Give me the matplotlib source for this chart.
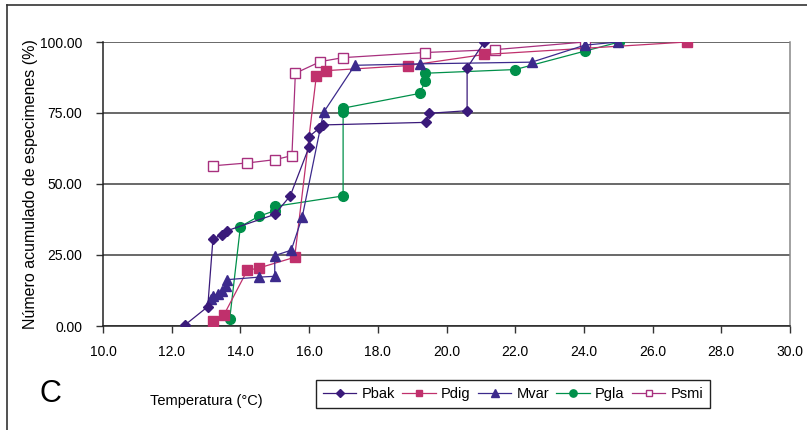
import matplotlib.pyplot as plt
from matplotlib.lines import Line2D

plt.rcParams['font.family'] = ['Liberation Sans', 'DejaVu Sans']

# temperatura (°C) / número acumulado (%)
pbak_x = [12.4, 13.05, 13.2, 13.45, 13.6, 15.0, 15.45, 16.0, 16.0, 16.3, 16.4, 19.4, 19.5, 20.6, 20.6, 21.1]
pbak_y = [0.5, 6.8, 30.5, 32.2, 33.5, 39.3, 45.8, 63.1, 66.7, 69.7, 70.8, 71.7, 74.9, 75.8, 90.9, 100.0]

pdig_x = [13.2, 13.52, 14.2, 14.53, 15.58, 16.21, 16.48, 18.88, 21.1, 27.0]
pdig_y = [1.6, 3.9, 19.6, 20.4, 24.2, 88.0, 89.9, 91.7, 95.6, 100.0]

mvar_x = [13.15, 13.2, 13.35, 13.47, 13.57, 13.6, 14.53, 15.0, 15.0, 15.48, 15.8, 16.42, 17.33, 19.22, 22.48, 24.03, 25.0]
mvar_y = [9.5, 10.6, 11.3, 12.2, 14.0, 16.3, 17.2, 17.5, 24.8, 26.7, 38.4, 75.2, 91.8, 92.3, 92.9, 98.9, 100.0]

pgla_x = [13.69, 14.0, 14.53, 15.0, 15.0, 16.99, 16.99, 16.99, 19.22, 19.38, 19.38, 22.0, 24.03, 25.03]
pgla_y = [2.6, 35.0, 38.6, 40.6, 42.1, 45.8, 75.3, 76.7, 81.9, 86.1, 89.0, 90.3, 96.8, 100.0]

psmi_x = [13.19, 14.2, 15.02, 15.5, 15.6, 16.33, 16.99, 19.38, 21.4, 24.03]
psmi_y = [56.4, 57.4, 58.6, 60.0, 89.0, 93.1, 94.5, 96.3, 97.3, 100.0]

fig = plt.figure(figsize=(8.07, 4.30), dpi=100)
ax = fig.add_axes([103 / 807, 1 - 326 / 430, (790 - 103) / 807, (326 - 42) / 430])

ax.plot(pbak_x, pbak_y, color='#3a1a7a', lw=0.9, marker='D', ms=5.5, mfc='#3a1a7a', mec='#3a1a7a', label='Pbak', zorder=5)
ax.plot(pdig_x, pdig_y, color='#c0306c', lw=0.9, marker='s', ms=6.5, mfc='#c0306c', mec='#c0306c', label='Pdig', zorder=4)
ax.plot(mvar_x, mvar_y, color='#3c2a8c', lw=0.9, marker='^', ms=7, mfc='#3c2a8c', mec='#3c2a8c', label='Mvar', zorder=4)
ax.plot(pgla_x, pgla_y, color='#00904a', lw=0.9, marker='o', ms=7, mfc='#00904a', mec='#00904a', label='Pgla', zorder=3)
ax.plot(psmi_x, psmi_y, color='#a8307e', lw=0.9, marker='s', ms=6.5, mfc='white', mec='#a8307e', mew=1.0, label='Psmi', zorder=3)

ax.set_xlim(10, 30)
ax.set_ylim(0, 100)
ax.set_xticks([10 + 2 * i for i in range(11)])
ax.set_xticklabels([f'{10 + 2 * i:.1f}' for i in range(11)])
ax.set_yticks([0, 25, 50, 75, 100])
ax.set_yticklabels(['0.00', '25.00', '50.00', '75.00', '100.00'])
ax.tick_params(axis='both', labelsize=10, direction='out', length=5, width=1, color='#333333')
ax.tick_params(axis='y', pad=10)
ax.tick_params(axis='x', pad=9)
ax.yaxis.grid(True, color='#404040', lw=1.1)
ax.set_axisbelow(True)
ax.spines['top'].set_visible(False)
ax.spines['left'].set_color('#222222')
ax.spines['bottom'].set_color('#222222')
ax.spines['right'].set_color('#888888')
for s in ['left', 'bottom', 'right']:
    ax.spines[s].set_linewidth(1.1)

ax.set_ylabel('Número acumulado de especimenes (%)', fontsize=11.5)
ax.yaxis.set_label_coords(-0.095, 0.5)

fig.text(206 / 807, 1 - 401 / 430, 'Temperatura (°C)', fontsize=10.5, ha='center', va='center')
fig.text(50 / 807, 1 - 394 / 430, 'C', fontsize=22, ha='center', va='center')

fig.legend(loc='center', bbox_to_anchor=(513 / 807, 1 - 394 / 430), ncol=5, fontsize=10.5,
           frameon=True, fancybox=False, edgecolor='#222222', framealpha=1,
           handlelength=2.3, handletextpad=0.35, columnspacing=0.5, borderpad=0.45,
           markerscale=0.75)

# outer frame of the chart area
fig.add_artist(Line2D([7 / 807, 7 / 807], [0, 1 - 5 / 430], color='#333333', lw=1.2))
fig.add_artist(Line2D([7 / 807, 1], [1 - 5 / 430, 1 - 5 / 430], color='#333333', lw=1.2))

fig.savefig('out.png', dpi=100, facecolor='white')
